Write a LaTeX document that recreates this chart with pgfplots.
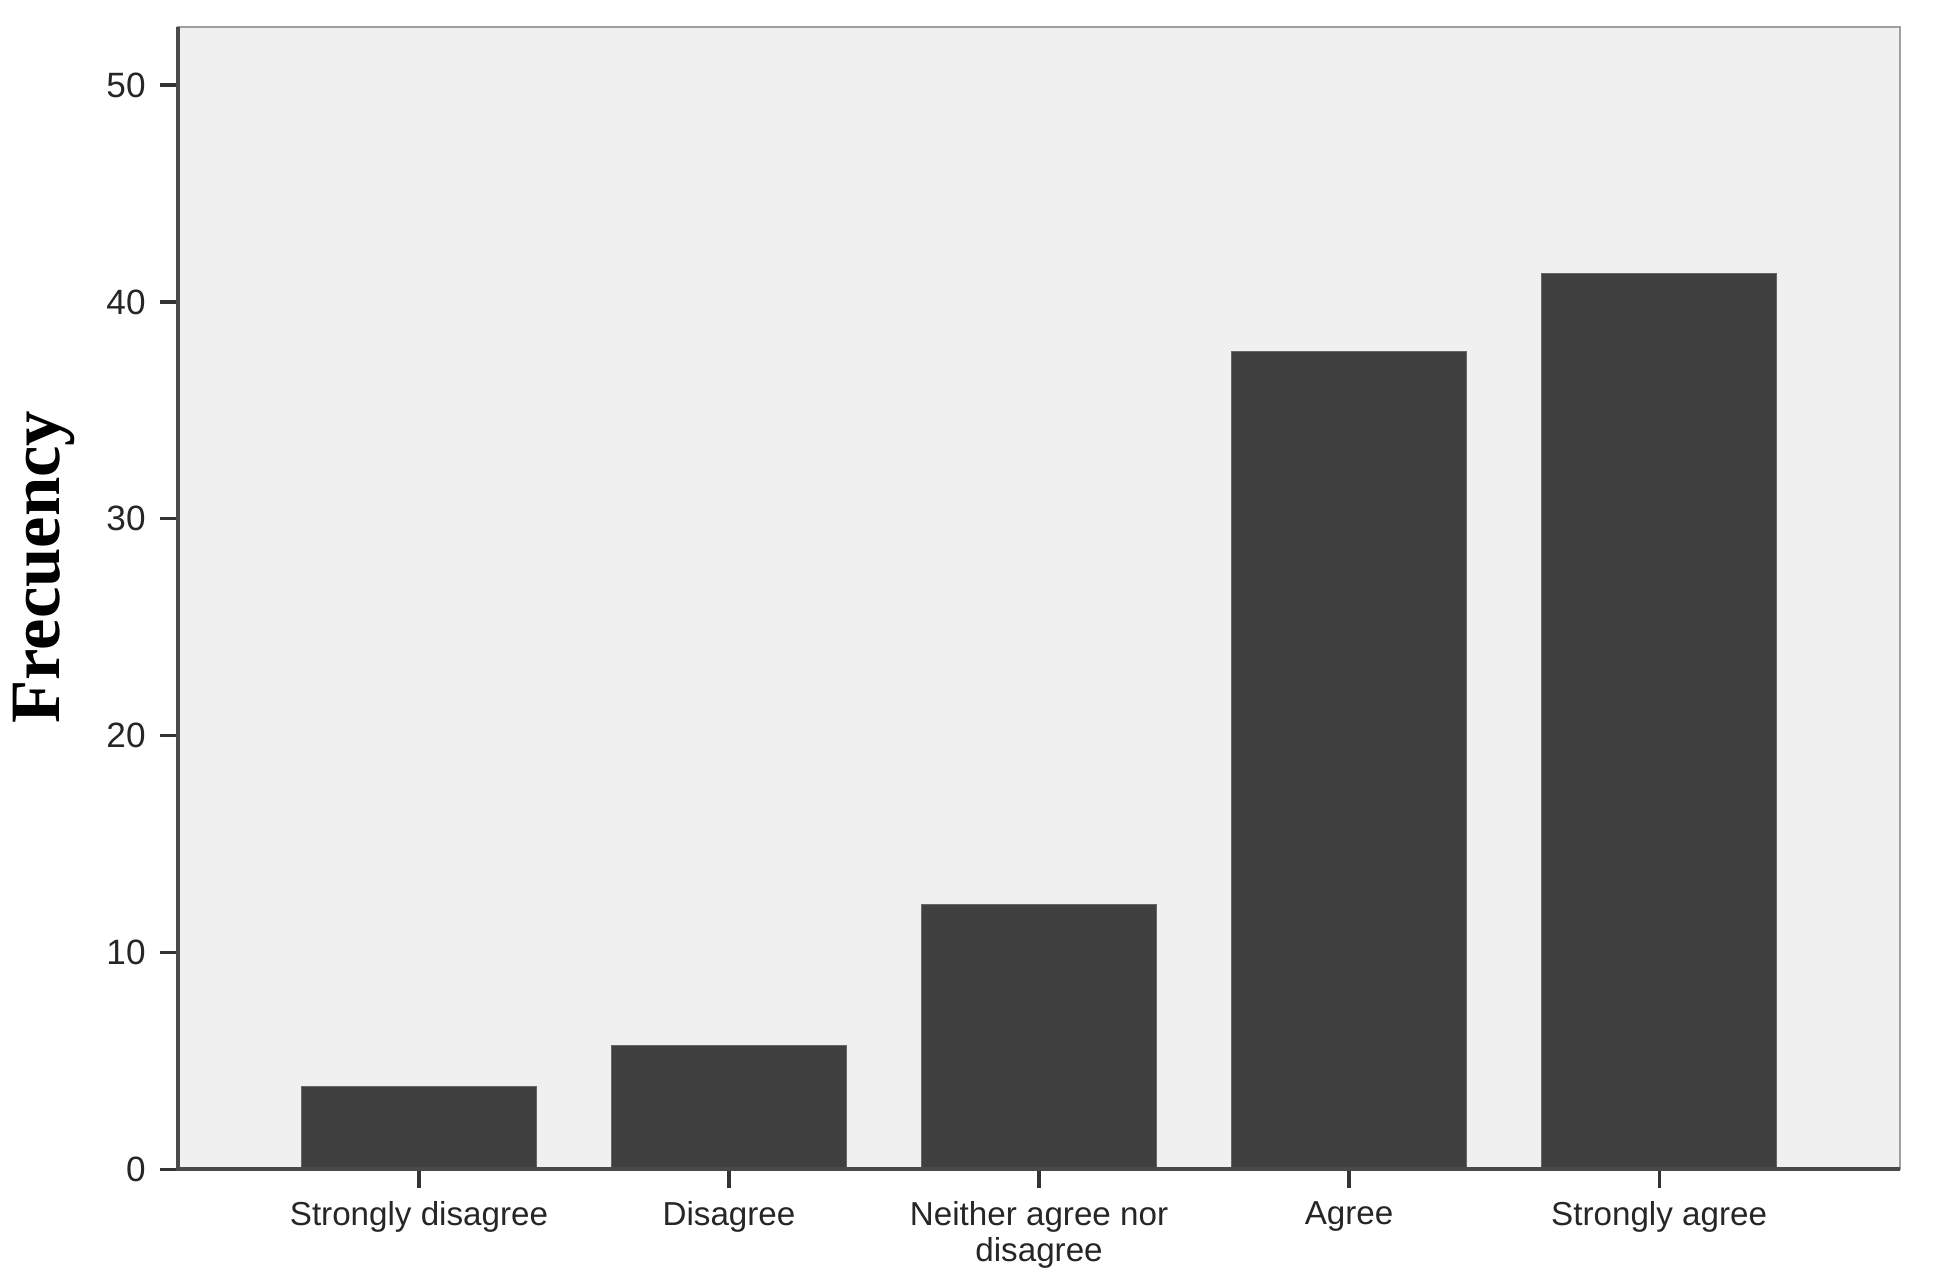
\documentclass[border=0pt]{standalone}
\usepackage{pgfplots}
\pgfplotsset{compat=1.18}
\usepackage{fontspec}
\setmainfont{Liberation Sans}
\newfontfamily\serifbold{Liberation Serif}
\definecolor{bgc}{HTML}{F0F0F0}
\definecolor{barc}{HTML}{404040}
\definecolor{axc}{HTML}{4A4A4A}
\begin{document}
\begin{tikzpicture}
\begin{axis}[
  scale only axis,
  width=430.75pt, height=285.75pt,
  xmin=-0.777, xmax=4.777,
  ymin=0, ymax=52.68,
  axis background/.style={fill=bgc},
  axis line style={draw=gray!75, line width=0.6pt},
  ybar, bar width=58.7pt,
  xtick={0,1,2,3,4},
  xticklabels={Strongly disagree, Disagree, {Neither agree nor\\disagree}, Agree, Strongly agree},
  xticklabel style={align=center, font=\fontsize{8.3}{8.9}\selectfont, text=black!85},
  ytick={0,10,20,30,40,50},
  yticklabel style={font=\fontsize{8.8}{10}\selectfont, text=black!85},
  /pgf/number format/assume math mode=true,
  tick align=outside,
  major tick length=4.6pt,
  xtick pos=bottom, ytick pos=left,
  tick style={draw=black!80, line width=0.8pt},
  ylabel={\serifbold\bfseries Frecuency},
  ylabel style={font=\fontsize{17.7}{20}\selectfont, at={(axis description cs:-0.0778,0.527)}, anchor=center},
  clip=false,
]
\addplot[fill=barc, draw=gray!80!black, line width=0.3pt] coordinates {(0,3.8) (1,5.7) (2,12.2) (3,37.7) (4,41.3)};
\draw[axc, line width=1.1pt] (rel axis cs:0,1) -- (rel axis cs:0,0) -- (rel axis cs:1,0);
\end{axis}
\path (current axis.south west) ++(-44.25pt,-29.5pt) coordinate (bl);
\path (current axis.north east) ++(9.25pt,6.75pt) coordinate (tr);
\path (bl) rectangle (tr);
\end{tikzpicture}
\end{document}
